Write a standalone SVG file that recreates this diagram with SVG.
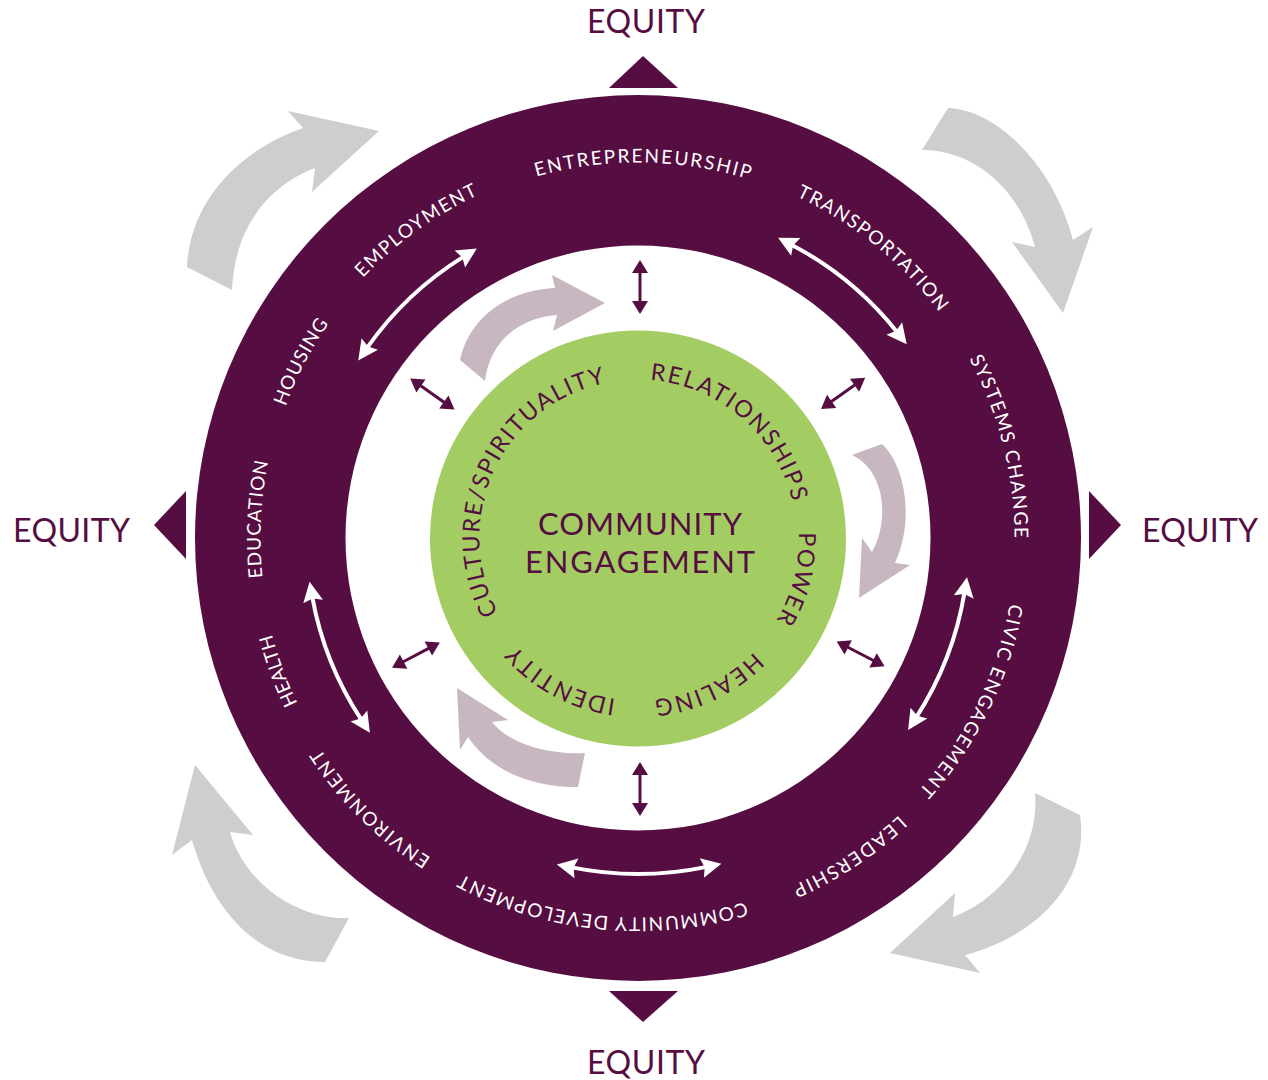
<svg xmlns="http://www.w3.org/2000/svg" width="1268" height="1080" viewBox="0 0 1268 1080">
<style>
.rl{font-family:Lato,"Liberation Sans",sans-serif;font-size:19px;fill:#fff;text-anchor:middle}
.cl{font-family:Lato,"Liberation Sans",sans-serif;font-size:23.5px;fill:#560D42;text-anchor:middle}
.eq{font-family:Lato,"Liberation Sans",sans-serif;font-size:32px;fill:#560D42}
.ct{font-family:Lato,"Liberation Sans",sans-serif;font-size:31px;fill:#560D42;text-anchor:middle}
.gray{fill:#CDCED0}
.mauve{fill:#C8B7C1}
.tri{fill:#560D42}
.wline{fill:none;stroke:#fff;stroke-width:4;marker-start:url(#wh);marker-end:url(#wh)}
.pline{fill:none;stroke:#560D42;stroke-width:3;marker-start:url(#ph);marker-end:url(#ph)}
</style>
<defs>
<marker id="wh" markerUnits="userSpaceOnUse" viewBox="0 0 20 20" markerWidth="20" markerHeight="20" refX="5" refY="10" orient="auto-start-reverse" overflow="visible"><path d="M0,0 L20,10 L0,20 L3,10 z" fill="#fff"/></marker>
<marker id="ph" markerUnits="userSpaceOnUse" viewBox="0 0 13 16" markerWidth="13" markerHeight="16" refX="2" refY="8" orient="auto-start-reverse" overflow="visible"><path d="M0,0 L13,8 L0,16 z" fill="#560D42"/></marker>
<path id="p1" d="M633.08,913.47 A375.5,375.5 0 0 1 642.92,162.53 A375.5,375.5 0 0 1 633.08,913.47"/>
<path id="p2" d="M401.06,830.6 A376.5,376.5 0 0 1 874.94,245.4 A376.5,376.5 0 0 1 401.06,830.6"/>
<path id="p3" d="M273,630.36 A376.5,376.5 0 0 1 1003,445.64 A376.5,376.5 0 0 1 273,630.36"/>
<path id="p4" d="M298.7,372.51 A377.5,377.5 0 0 1 977.3,703.49 A377.5,377.5 0 0 1 298.7,372.51"/>
<path id="p5" d="M427.44,221.07 A380.5,380.5 0 0 1 848.56,854.93 A380.5,380.5 0 0 1 427.44,221.07"/>
<path id="p6" d="M675.03,160.31 A379.5,379.5 0 0 1 600.97,915.69 A379.5,379.5 0 0 1 675.03,160.31"/>
<path id="p7" d="M906.34,266.83 A381.5,381.5 0 0 1 369.66,809.17 A381.5,381.5 0 0 1 906.34,266.83"/>
<path id="p8" d="M993,406.68 A378.5,378.5 0 0 1 283,669.32 A378.5,378.5 0 0 1 993,406.68"/>
<path id="p9" d="M1015.05,556.44 A377.5,377.5 0 0 1 260.95,519.56 A377.5,377.5 0 0 1 1015.05,556.44"/>
<path id="p10" d="M971.65,712.43 A376.5,376.5 0 0 1 304.35,363.57 A376.5,376.5 0 0 1 971.65,712.43"/>
<path id="p11" d="M859.41,844.99 A378.5,378.5 0 0 1 416.59,231.01 A378.5,378.5 0 0 1 859.41,844.99"/>
<path id="g1" d="M782.1,605.2 A159,159 0 0 1 493.9,470.8 A159,159 0 0 1 782.1,605.2"/>
<path id="g2" d="M535.06,658.53 A158.5,158.5 0 0 1 740.94,417.47 A158.5,158.5 0 0 1 535.06,658.53"/>
<path id="g3" d="M481.99,498.23 A161,161 0 0 1 794.01,577.77 A161,161 0 0 1 481.99,498.23"/>
<path id="g4" d="M567.66,391.51 A162.5,162.5 0 0 1 708.34,684.49 A162.5,162.5 0 0 1 567.66,391.51"/>
<path id="g5" d="M715.17,394.99 A162.5,162.5 0 0 1 560.83,681.01 A162.5,162.5 0 0 1 715.17,394.99"/>
</defs>
<rect width="1268" height="1080" fill="#fff"/>

<g id="outer-flow-arrows">
<path class="gray" d="M187,267 C190,200 240,150 303,128 L288,111 L379,131 L312,192 L315,168 C270,185 235,225 232,290 Z"/>
<path class="gray" d="M948,108 C1000,110 1055,170 1073,240 L1093,227 L1063,313 L1012,242 L1035,247 C1020,190 975,150 922,150 Z"/>
<path class="gray" d="M1080,815 C1090,880 1040,935 965,955 L980,973 L890,953 L955,893 L953,917 C1000,900 1040,850 1035,793 Z"/>
<path class="gray" d="M192,840 C215,920 265,962 325,962 L349,918 C300,920 245,885 230,832 L253,835 L195,765 L172,855 Z"/>
</g>

<g id="equity-triangles">
<polygon class="tri" points="643,56 609,88 678,88"/>
<polygon class="tri" points="609,991 678,991 643,1022"/>
<polygon class="tri" points="154,525 186,491 186,559"/>
<polygon class="tri" points="1089,491 1089,559 1121,525"/>
</g>

<g id="equity-labels">
<text class="eq" x="587" y="33" textLength="118" lengthAdjust="spacing">EQUITY</text>
<text class="eq" x="587" y="1074" textLength="118" lengthAdjust="spacing">EQUITY</text>
<text class="eq" x="13" y="542" textLength="117" lengthAdjust="spacing">EQUITY</text>
<text class="eq" x="1142" y="542" textLength="116" lengthAdjust="spacing">EQUITY</text>
</g>

<g id="ring">
<circle cx="638" cy="538" r="443" fill="#560D42"/>
<circle cx="638" cy="538" r="292.5" fill="#fff"/>
</g>

<g id="ring-labels">
<text class="rl"><textPath href="#p1" startOffset="50%" textLength="216" lengthAdjust="spacing">ENTREPRENEURSHIP</textPath></text>
<text class="rl"><textPath href="#p2" startOffset="50%" textLength="186" lengthAdjust="spacing">TRANSPORTATION</textPath></text>
<text class="rl"><textPath href="#p3" startOffset="50%" textLength="187" lengthAdjust="spacing">SYSTEMS CHANGE</textPath></text>
<text class="rl"><textPath href="#p4" startOffset="50%" textLength="211" lengthAdjust="spacing">CIVIC ENGAGEMENT</textPath></text>
<text class="rl"><textPath href="#p5" startOffset="50%" textLength="129" lengthAdjust="spacing">LEADERSHIP</textPath></text>
<text class="rl"><textPath href="#p6" startOffset="50%" textLength="292" lengthAdjust="spacing">COMMUNITY DEVELOPMENT</textPath></text>
<text class="rl"><textPath href="#p7" startOffset="50%" textLength="157" lengthAdjust="spacing">ENVIRONMENT</textPath></text>
<text class="rl"><textPath href="#p8" startOffset="50%" textLength="74" lengthAdjust="spacing">HEALTH</textPath></text>
<text class="rl"><textPath href="#p9" startOffset="50%" textLength="117" lengthAdjust="spacing">EDUCATION</textPath></text>
<text class="rl"><textPath href="#p10" startOffset="50%" textLength="94" lengthAdjust="spacing">HOUSING</textPath></text>
<text class="rl"><textPath href="#p11" startOffset="50%" textLength="143" lengthAdjust="spacing">EMPLOYMENT</textPath></text>
</g>

<g id="inner-flow-arrows">
<path class="mauve" d="M460,360 C470,315 510,290 555,288 L552,275 L605,303 L553,331 L557,315 C520,318 490,340 485,381 Z"/>
<path class="mauve" d="M852,455 L882,444 C905,465 915,520 895,563 L910,565 L859,598 L862,538 L872,552 C890,520 885,470 852,455 Z"/>
<path class="mauve" d="M468,737 C490,770 530,787 578,787 L585,753 C550,755 510,745 492,722 L508,720 L457,688 L460,750 Z"/>
</g>

<g id="core">
<circle cx="638" cy="538.5" r="208" fill="#A3CD63"/>
<text class="ct" x="640" y="534.5" textLength="204" lengthAdjust="spacing">COMMUNITY</text>
<text class="ct" x="640" y="572.5" textLength="230" lengthAdjust="spacing">ENGAGEMENT</text>
</g>

<g id="core-labels">
<text class="cl"><textPath href="#g1" startOffset="50%" textLength="294" lengthAdjust="spacing">CULTURE/SPIRITUALITY</textPath></text>
<text class="cl"><textPath href="#g2" startOffset="50%" textLength="200" lengthAdjust="spacing">RELATIONSHIPS</textPath></text>
<text class="cl"><textPath href="#g3" startOffset="50%" textLength="92" lengthAdjust="spacing">POWER</textPath></text>
<text class="cl"><textPath href="#g4" startOffset="50%" textLength="113" lengthAdjust="spacing">HEALING</textPath></text>
<text class="cl"><textPath href="#g5" startOffset="50%" textLength="116" lengthAdjust="spacing">IDENTITY</textPath></text>
</g>

<g id="connectors">
<path class="wline" d="M366.86,348.15 A331,331 0 0 1 464.07,256.38"/>
<path class="wline" d="M791.35,244.67 A331,331 0 0 1 897.4,332.4"/>
<path class="wline" d="M964.55,592.06 A331,331 0 0 1 916.23,717.31"/>
<path class="wline" d="M706.71,866.9 A336,336 0 0 1 571.59,867.37"/>
<path class="wline" d="M361.67,720.21 A331,331 0 0 1 312.23,596.61"/>
<path class="pline" d="M640,303 L640,271"/>
<path class="pline" d="M830.03,402.54 L856.18,384.09"/>
<path class="pline" d="M846.45,646.51 L874.83,661.29"/>
<path class="pline" d="M640,773 L640,805"/>
<path class="pline" d="M430.12,647.6 L401.82,662.52"/>
<path class="pline" d="M445.5,403.21 L419.29,384.85"/>
</g>
</svg>
